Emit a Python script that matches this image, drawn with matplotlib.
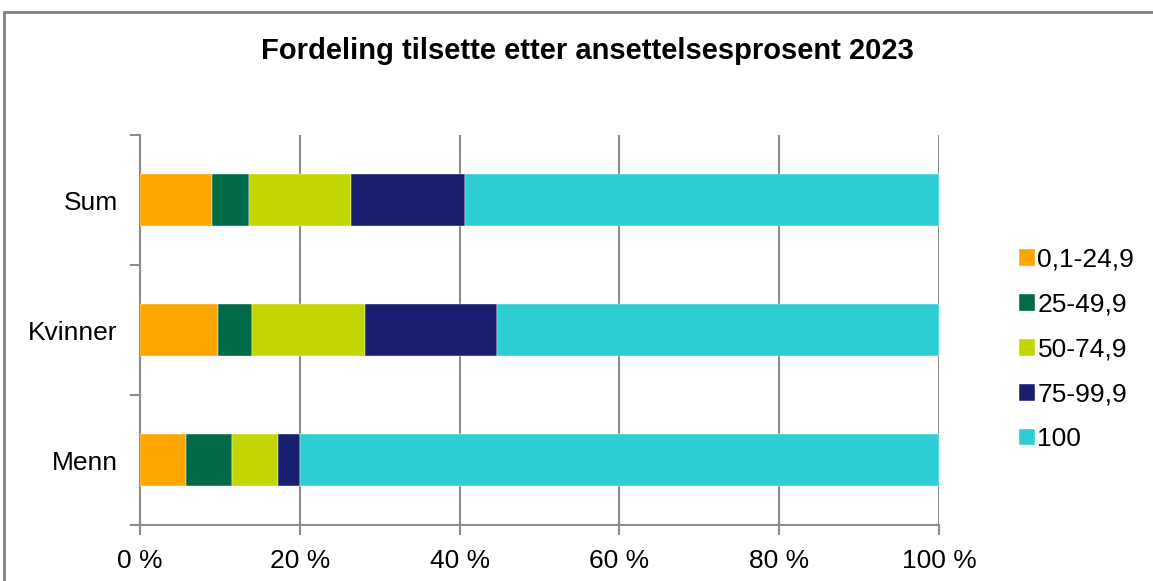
import matplotlib
matplotlib.use("Agg")
import matplotlib.pyplot as plt
from matplotlib.patches import Rectangle
from matplotlib.ticker import FixedLocator, FuncFormatter

categories = ["Menn", "Kvinner", "Sum"]
series_labels = ["0,1-24,9", "25-49,9", "50-74,9", "75-99,9", "100"]
s_0_25 = [5.7, 9.7, 9.0]
s_25_50 = [5.8, 4.3, 4.6]
s_50_75 = [5.8, 14.2, 12.8]
s_75_100 = [2.7, 16.5, 14.3]
s_100 = [80.0, 55.3, 59.3]
series = [s_0_25, s_25_50, s_50_75, s_75_100, s_100]
colors = ["#FFA500", "#006A48", "#C4D600", "#171F6E", "#2ECDD4"]
title = "Fordeling tilsette etter ansettelsesprosent 2023"
xticks = [0, 20, 40, 60, 80, 100]

plt.rcParams['font.family'] = ['Liberation Sans', 'DejaVu Sans']

fig = plt.figure(figsize=(11.53, 5.81), dpi=100)
ax = fig.add_axes([140/1153, 1-525/581, (939-140)/1153, (525-135)/581])

left = [0.0]*len(categories)
ypos = list(range(len(categories)))
for vals, lab, col in zip(series, series_labels, colors):
    ax.barh(ypos, vals, left=left, height=0.4, color=col, label=lab,
            edgecolor='white', linewidth=0.3, zorder=3)
    left = [l+v for l, v in zip(left, vals)]

gray = '#8C8C8C'
ax.set_xlim(0, 100)
ax.set_ylim(-0.5, len(categories)-0.5)
ax.set_xticks(xticks)
ax.xaxis.set_major_formatter(FuncFormatter(lambda v, p: f"{int(v)} %"))
ax.set_yticks(ypos)
ax.set_yticklabels(categories)
ax.yaxis.set_minor_locator(FixedLocator([i-0.5 for i in range(len(categories)+1)]))
ax.tick_params(axis='y', which='major', length=0, pad=16, labelsize=19)
ax.tick_params(axis='y', which='minor', length=7, width=1.5, color=gray)
ax.tick_params(axis='x', which='major', length=7, width=1.5, color=gray, pad=10, labelsize=19)
ax.grid(axis='x', color=gray, linewidth=1.5, zorder=0)
for s in ['top', 'right']:
    ax.spines[s].set_visible(False)
for s in ['left', 'bottom']:
    ax.spines[s].set_color(gray)
    ax.spines[s].set_linewidth(1.5)

fig.text(587/1153, 1-51/581, title, ha='center', va='center', fontsize=21, fontweight='bold')

handles, labels = ax.get_legend_handles_labels()
leg = fig.legend(handles, labels, loc='upper left', bbox_to_anchor=(1019/1153, 1-248/581),
                 frameon=False, fontsize=19, handlelength=0.6, handleheight=0.6,
                 handletextpad=0.1, labelspacing=0.79, borderaxespad=0, borderpad=0)

fig.add_artist(Rectangle((4/1153, -0.1), 1.2, 1-12/581+0.1, transform=fig.transFigure,
                         fill=False, edgecolor='#808080', linewidth=2))

fig.savefig("out.png", dpi=100)
